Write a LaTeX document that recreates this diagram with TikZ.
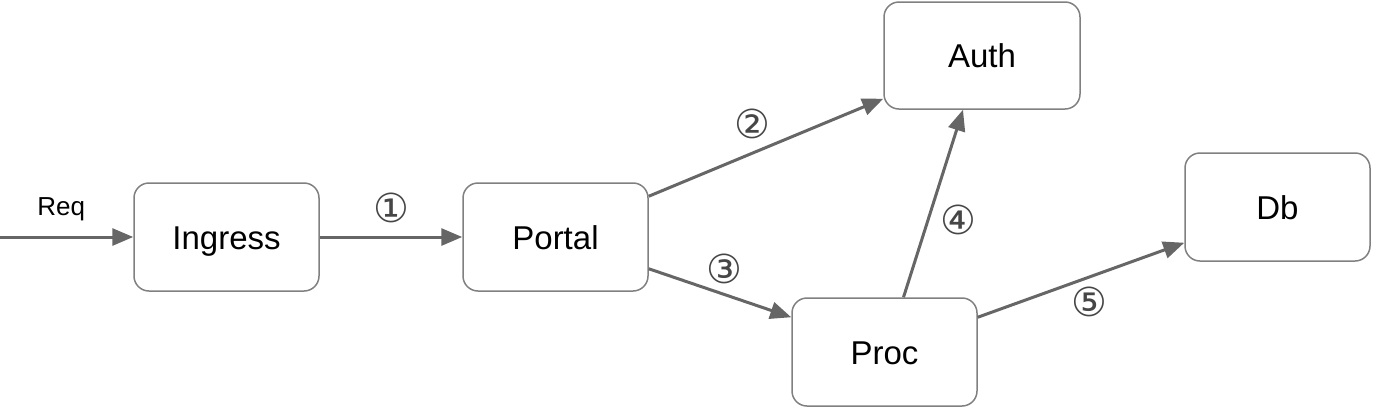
\documentclass[tikz,border=0pt]{standalone}
\usepackage{fontspec}
\setmainfont{Liberation Sans}
\newfontfamily\circfont{DejaVu Sans}
\usetikzlibrary{arrows.meta}

\definecolor{boxline}{RGB}{128,128,128}
\definecolor{arrowline}{RGB}{102,102,102}
\definecolor{numtext}{RGB}{70,70,70}

\tikzset{
  svcbox/.style={draw=boxline, line width=1.5pt, rounded corners=15pt, fill=white,
    minimum width=185pt, minimum height=108pt, inner sep=0pt,
    text height=24pt, text depth=0pt,
    font=\fontsize{33}{36}\selectfont},
  flow/.style={draw=arrowline, line width=3pt, -{Triangle[length=21pt,width=17pt]}},
  stepnum/.style={font=\circfont\fontsize{40}{44}\selectfont, text=numtext, inner sep=0pt}
}

\begin{document}
\begin{tikzpicture}[x=1pt,y=1pt,yscale=-1,xscale=1]
\useasboundingbox (0,0) rectangle (1374,408);

% Boxes
\node[svcbox] (ingress) at (226.5,237) {Ingress};
\node[svcbox] (portal) at (555.5,237) {Portal};
\node[svcbox, minimum width=196pt, minimum height=107pt] (auth) at (982,55.5) {Auth};
\node[svcbox] (db) at (1277.5,207) {Db};
\node[svcbox] (proc) at (884.5,352) {Proc};

% incoming request
\coordinate (reqstart) at (0,237);

% Arrows
\draw[flow] (reqstart) -- (ingress.west)
  node[pos=0.46, above=11pt, font=\fontsize{26}{29}\selectfont] (reqlbl) {Req};
\draw[flow] (ingress.east) -- (portal.west)
  node[pos=0.5, above=13pt, stepnum] (num1) {①};
\draw[flow] ([yshift=14pt]portal.north east) -- ([yshift=-11pt]auth.south west)
  node[pos=0.44, above=13pt, stepnum] (num2) {②};
\draw[flow] ([yshift=-23pt]portal.south east) -- ([yshift=20pt]proc.north west)
  node[pos=0.53, above=9pt, stepnum] (num3) {③};
\draw[flow] ([xshift=19pt]proc.north) -- ([xshift=-19pt]auth.south)
  node[pos=0.41, right=11pt, stepnum] (num4) {④};
\draw[flow] ([yshift=20pt]proc.north east) -- ([yshift=-19pt]db.south west)
  node[pos=0.54, below=8pt, stepnum] (num5) {⑤};

\end{tikzpicture}
\end{document}
